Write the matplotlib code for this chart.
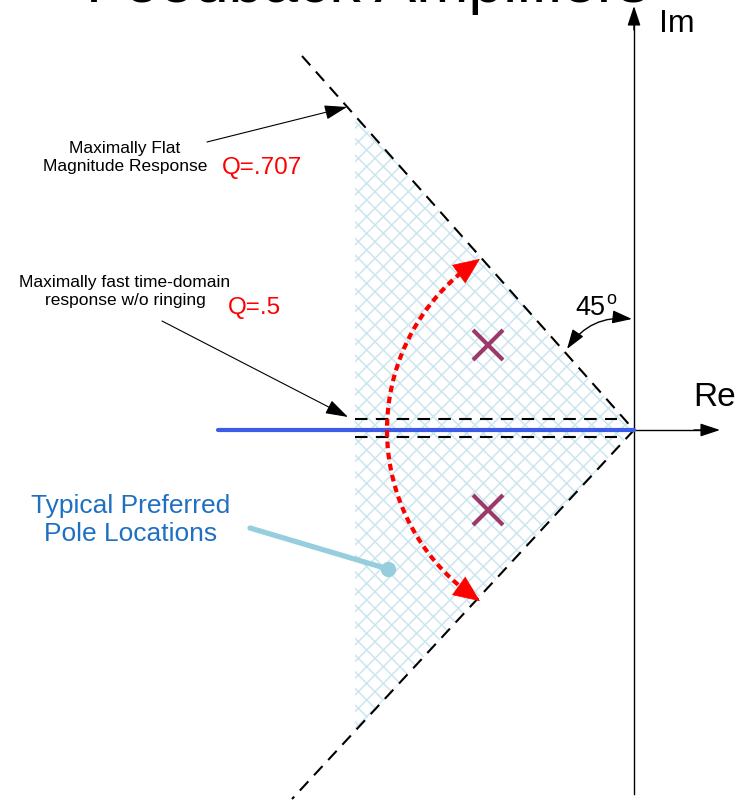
import numpy as np
import matplotlib
matplotlib.use("Agg")
import matplotlib.pyplot as plt
from matplotlib.patches import Polygon, FancyArrowPatch

plt.rcParams['font.family'] = ['Liberation Sans', 'DejaVu Sans']
plt.rcParams['hatch.linewidth'] = 1.1

# ---- data (s-plane units, origin at the jw-axis crossing) ----
title = "Feedback Amplifiers"
pole_re = [-146, -146]
pole_im = [85, -80]

# Q = .707 boundary (45 degree lines) end points
q707_re = [-332, 0, -342]
q707_im = [374, 0, -369]
# Q = .5 boundary (pair of horizontal dashed lines just around the real axis)
q5_re = [-279, -17]
q5_im_upper = [11, 11]
q5_im_lower = [-7, -7]
# preferred region (hatched)
region_re = [-279, 0, -279]
region_im = [314, 0, -301]
# real-axis pole locus (blue)
locus_re = [-416, 0]
locus_im = [0, 0]
# red arc (sweep of Q) : centre, radius, end points
arc_center = (-43, 0)
arc_radius = 204
arc_end_upper = (-154, 171)
arc_end_lower = (-154, -171)

labels_black = ["Maximally Flat\nMagnitude Response",
                "Maximally fast time-domain\nresponse w/o ringing"]
labels_black_pos = [(-509, 273), (-509, 139)]
q_labels = ["Q=.707", "Q=.5"]
q_labels_pos = [(-372, 263), (-380, 123)]
label_arrow_from = [(-427, 288), (-472, 109)]
label_arrow_to = [(-287, 323), (-286, 13)]

fig = plt.figure(figsize=(7.38, 8.03), dpi=100)
ax = fig.add_axes([0, 0, 1, 1])
ax.set_xlim(-634, 104)
ax.set_ylim(-372, 431)
ax.axis('off')

# hatched region
poly = Polygon(np.column_stack([region_re, region_im]), closed=True,
               facecolor='none', edgecolor='#cce6ef', linewidth=0, hatch='xx', zorder=1)
ax.add_patch(poly)

# axes
ax.plot([0, 0], [-364, 418], color='black', lw=1.0, zorder=3)
ax.annotate('', xy=(0, 424), xytext=(0, 400),
            arrowprops=dict(arrowstyle='-|>,head_length=1.2,head_width=0.4', mutation_scale=10,
                            color='black', lw=1.0, shrinkA=0, shrinkB=0), zorder=3)
ax.plot([0, 80], [0, 0], color='black', lw=1.0, zorder=3)
ax.annotate('', xy=(86, 0), xytext=(60, 0),
            arrowprops=dict(arrowstyle='-|>,head_length=1.2,head_width=0.4', mutation_scale=10,
                            color='black', lw=1.0, shrinkA=0, shrinkB=0), zorder=3)
ax.text(43, 407, "Im", fontsize=23, ha='center', va='center')
ax.text(81, 33, "Re", fontsize=24, ha='center', va='center')

# title (clipped at top, as in the original slide)
ax.text(-548, 429, title, fontsize=45, ha='left', va='baseline', zorder=5)

# Q=.707 dashed lines
ax.plot(q707_re, q707_im, color='black', lw=1.5, dashes=[6, 4], zorder=4)
# Q=.5 dashed lines
ax.plot(q5_re, q5_im_upper, color='black', lw=1.5, dashes=[6, 4], zorder=4)
ax.plot(q5_re, q5_im_lower, color='black', lw=1.5, dashes=[6, 4], zorder=4)

# blue locus
ax.plot(locus_re, locus_im, color='#3c5ce8', lw=3.0, solid_capstyle='round', zorder=6)

# red arc
cx, cy = arc_center
a1 = np.arctan2(arc_end_upper[1] - cy, arc_end_upper[0] - cx)
a2 = np.arctan2(arc_end_lower[1] - cy, arc_end_lower[0] - cx) + 2 * np.pi
head = 20 / arc_radius
t = np.linspace(a1 + head * 0.6, a2 - head * 0.6, 200)
ax.plot(cx + arc_radius * np.cos(t), cy + arc_radius * np.sin(t), color='#ff0000',
        lw=3.0, dashes=[1.6, 1.1], zorder=7)
for a_tip, sgn in [(a1, 1), (a2, -1)]:
    tip = (cx + arc_radius * np.cos(a_tip), cy + arc_radius * np.sin(a_tip))
    back = (cx + arc_radius * np.cos(a_tip + sgn * head), cy + arc_radius * np.sin(a_tip + sgn * head))
    ax.annotate('', xy=tip, xytext=back,
                arrowprops=dict(arrowstyle='-|>,head_length=1.5,head_width=0.65', mutation_scale=12,
                                color='#ff0000', lw=0.5, shrinkA=0, shrinkB=0), zorder=7)

# poles
ax.plot(pole_re, pole_im, linestyle='none', marker='x', markersize=21, markeredgewidth=3.0,
        color='#9b3a6a', zorder=8)

# 45 degree label and angle arrow
ax.text(-44, 123, "45", fontsize=19.5, ha='center', va='center')
ax.text(-23, 131, "o", fontsize=13, ha='center', va='center')
arr = FancyArrowPatch((-67, 81), (-2, 111), connectionstyle='arc3,rad=-0.3',
                      arrowstyle='<|-|>,head_length=1.2,head_width=0.4', mutation_scale=10,
                      color='black', lw=1.0, shrinkA=0, shrinkB=0, zorder=8)
ax.add_patch(arr)

# labels
for txt, (x, y) in zip(labels_black, labels_black_pos):
    ax.text(x, y, txt, fontsize=12.5, ha='center', va='center', multialignment='center',
            linespacing=1.25)
for txt, (x, y) in zip(q_labels, q_labels_pos):
    ax.text(x, y, txt, fontsize=17.5, ha='center', va='center', color='#ff0000')
for p0, p1 in zip(label_arrow_from, label_arrow_to):
    ax.annotate('', xy=p1, xytext=p0,
                arrowprops=dict(arrowstyle='-|>,head_length=1.4,head_width=0.45', mutation_scale=10,
                                color='black', lw=0.8, shrinkA=0, shrinkB=0), zorder=8)

# typical preferred pole locations
ax.text(-503, -89, "Typical Preferred\nPole Locations", fontsize=19, ha='center', va='center',
        multialignment='center', color='#1f70c1', linespacing=1.25)
ax.plot([-384, -246], [-98, -139], color='#96cedd', lw=3.8, solid_capstyle='round', zorder=8)
ax.plot([-246], [-139], marker='o', markersize=10, color='#96cedd', zorder=8)

fig.savefig('out.png', dpi=100)
